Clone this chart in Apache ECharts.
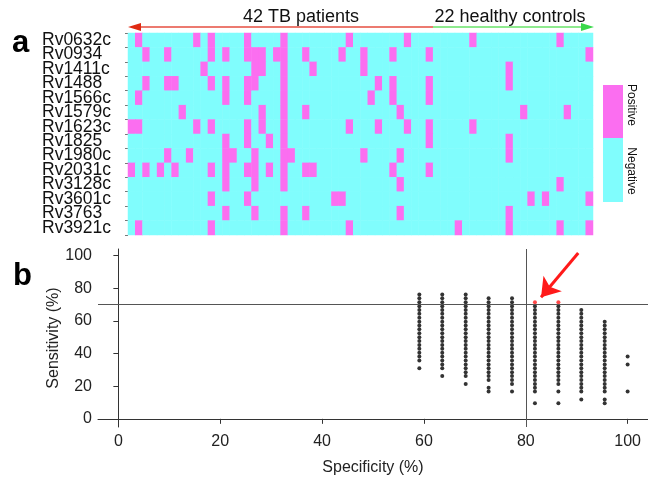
<!DOCTYPE html>
<html><head><meta charset="utf-8">
<script src="https://cdn.jsdelivr.net/npm/echarts@6/dist/echarts.min.js"></script>
<style>html,body{margin:0;padding:0;background:#fff}#c{width:648px;height:477px}</style>
</head><body><div id="c"></div>
<script>
// ---------- Panel a: heatmap ----------
const genes = ['Rv0632c','Rv0934','Rv1411c','Rv1488','Rv1566c','Rv1579c','Rv1623c','Rv1825','Rv1980c','Rv2031c','Rv3128c','Rv3601c','Rv3763','Rv3921c'];
const tbCount = 42;
const hcCount = 22;
// positive subject columns (0-41 TB patients, 42-63 healthy controls)
const pos_Rv0632c = [1, 9, 11, 16, 21, 30, 38, 47, 59];
const pos_Rv0934  = [2, 5, 11, 13, 16, 17, 18, 20, 21, 24, 29, 32, 36, 41, 63];
const pos_Rv1411c = [10, 17, 18, 21, 25, 32, 52];
const pos_Rv1488  = [2, 5, 6, 11, 13, 16, 17, 21, 34, 36, 41, 52];
const pos_Rv1566c = [1, 13, 16, 21, 33, 36, 41];
const pos_Rv1579c = [7, 18, 21, 24, 37, 54, 60];
const pos_Rv1623c = [0, 1, 9, 11, 16, 18, 21, 30, 34, 38, 41, 47];
const pos_Rv1825  = [13, 16, 19, 21, 41, 52];
const pos_Rv1980c = [5, 8, 13, 14, 17, 21, 22, 32, 37, 52];
const pos_Rv2031c = [0, 2, 4, 6, 11, 13, 16, 17, 19, 21, 24, 25, 36, 41];
const pos_Rv3128c = [13, 17, 21, 37, 59];
const pos_Rv3601c = [11, 16, 28, 29, 55, 57, 63];
const pos_Rv3763  = [13, 17, 21, 24, 37, 52];
const pos_Rv3921c = [1, 11, 21, 30, 45, 52, 59, 63];
const positives = [pos_Rv0632c,pos_Rv0934,pos_Rv1411c,pos_Rv1488,pos_Rv1566c,pos_Rv1579c,pos_Rv1623c,pos_Rv1825,pos_Rv1980c,pos_Rv2031c,pos_Rv3128c,pos_Rv3601c,pos_Rv3763,pos_Rv3921c];

// ---------- Panel b: scatter ----------
const xTicks = [0, 20, 40, 60, 80, 100];
const yTicks = [0, 20, 40, 60, 80, 100];
const specificity = [59.1, 63.6, 68.2, 72.7, 77.3, 81.8, 86.4, 90.9, 95.5, 100];
const sens_59_1 = [76.2,73.8,71.4,69.0,66.7,64.3,61.9,59.5,57.1,54.8,52.4,50.0,47.6,45.2,42.9,40.5,38.1,35.7,31.0];
const sens_63_6 = [76.2,73.8,71.4,69.0,66.7,64.3,61.9,59.5,57.1,54.8,52.4,50.0,47.6,45.2,42.9,40.5,38.1,35.7,33.3,31.0,26.2];
const sens_68_2 = [76.2,73.8,71.4,69.0,66.7,64.3,61.9,59.5,57.1,54.8,52.4,50.0,47.6,45.2,42.9,40.5,38.1,35.7,33.3,31.0,28.6,26.2,21.4];
const sens_72_7 = [73.8,71.4,69.0,66.7,64.3,61.9,59.5,57.1,54.8,52.4,50.0,47.6,45.2,42.9,40.5,38.1,35.7,33.3,31.0,28.6,26.2,23.8,19.0,16.7];
const sens_77_3 = [73.8,71.4,69.0,66.7,64.3,61.9,59.5,57.1,54.8,52.4,50.0,47.6,45.2,42.9,40.5,38.1,35.7,33.3,31.0,28.6,26.2,23.8,21.4,16.7];
const sens_81_8 = [69.0,66.7,64.3,61.9,59.5,57.1,54.8,52.4,50.0,47.6,45.2,42.9,40.5,38.1,35.7,33.3,31.0,28.6,26.2,23.8,21.4,19.0,16.7,9.5];
const sens_86_4 = [69.0,66.7,64.3,61.9,59.5,57.1,54.8,52.4,50.0,47.6,45.2,42.9,40.5,38.1,35.7,33.3,31.0,28.6,26.2,23.8,21.4,16.7,9.5];
const sens_90_9 = [66.7,64.3,61.9,59.5,57.1,54.8,52.4,50.0,47.6,45.2,42.9,40.5,38.1,35.7,33.3,31.0,28.6,26.2,23.8,21.4,19.0,16.7,11.9];
const sens_95_5 = [59.5,57.1,54.8,52.4,50.0,47.6,45.2,42.9,40.5,38.1,35.7,33.3,31.0,28.6,26.2,23.8,21.4,19.0,16.7,11.9,9.5];
const sens_100  = [38.1,33.3,16.7];
const sensCols = [sens_59_1,sens_63_6,sens_68_2,sens_72_7,sens_77_3,sens_81_8,sens_86_4,sens_90_9,sens_95_5,sens_100];
const redSpecificity = [81.8, 86.4];
const redSensitivity = [71.4, 71.4];
const cutSensitivity = 70;
const cutSpecificity = 80;
const arrowFrom = [90.3, 101.5];
const arrowTo = [83.0, 74.5];

const PINK = '#fb6ef0', CYAN = '#80fdfd';
const FONT = '"Liberation Sans", Arial, sans-serif';

const subjects = [];
for (let i = 0; i < tbCount + hcCount; i++) subjects.push(String(i));
const heatData = [];
positives.forEach((cols, r) => {
  for (let c = 0; c < tbCount + hcCount; c++) heatData.push([c, r, cols.includes(c) ? 1 : 0]);
});
const scatterData = [];
specificity.forEach((sp, i) => sensCols[i].forEach(s => scatterData.push([sp, s])));
const redData = redSpecificity.map((sp, i) => [sp, redSensitivity[i]]);

const chart = echarts.init(document.getElementById('c'), null, {renderer: 'canvas'});
chart.setOption({
  animation: false,
  textStyle: {fontFamily: FONT},
  grid: [
    {left: 128, top: 33, width: 465, height: 202},
    {left: 98, top: 249, right: 0, bottom: 45}
  ],
  xAxis: [
    {gridIndex: 0, type: 'category', data: subjects, show: false},
    {gridIndex: 1, type: 'value', min: -4, max: 104,
     axisLine: {lineStyle: {color: '#333'}},
     axisTick: {customValues: xTicks, length: 5, lineStyle: {color: '#333'}},
     axisLabel: {customValues: xTicks, color: '#222', fontSize: 16, margin: 7},
     splitLine: {show: false},
     name: 'Specificity (%)', nameLocation: 'middle', nameGap: 33,
     nameTextStyle: {color: '#222', fontSize: 16}}
  ],
  yAxis: [
    {gridIndex: 0, type: 'category', data: genes, inverse: true,
     axisLine: {show: false},
     axisTick: {show: true, length: 3, lineStyle: {color: '#777'}},
     axisLabel: {interval: 0, color: '#111', fontSize: 17.5, margin: 86, align: 'left'}},
    {gridIndex: 1, type: 'value', min: -5, max: 104,
     axisLine: {show: true, lineStyle: {color: '#333'}},
     axisTick: {show: true, customValues: yTicks, length: 5, lineStyle: {color: '#333'}},
     axisLabel: {customValues: yTicks, color: '#222', fontSize: 16, margin: 6},
     splitLine: {show: false},
     name: 'Sensitivity (%)', nameLocation: 'middle', nameGap: 36, nameMoveOverlap: false,
     nameTextStyle: {color: '#222', fontSize: 16}}
  ],
  visualMap: {
    show: false, type: 'piecewise', seriesIndex: 0, dimension: 2,
    pieces: [{value: 1, color: PINK}, {value: 0, color: CYAN}]
  },
  series: [
    {type: 'heatmap', xAxisIndex: 0, yAxisIndex: 0, data: heatData,
     itemStyle: {borderWidth: 0}, emphasis: {disabled: true}, silent: true},
    {type: 'scatter', xAxisIndex: 1, yAxisIndex: 1, data: scatterData,
     symbolSize: 4, itemStyle: {color: '#000'}, silent: true,
     markLine: {silent: true, symbol: 'none', label: {show: false},
       lineStyle: {color: '#555', width: 1, type: 'solid'},
       data: [{yAxis: cutSensitivity}, {xAxis: cutSpecificity}]}},
    {type: 'scatter', xAxisIndex: 1, yAxisIndex: 1, data: redData,
     symbolSize: 4, itemStyle: {color: '#ff1a1a'}, silent: true,
     markLine: {silent: true, symbol: ['none', 'arrow'], symbolSize: 18, label: {show: false},
       lineStyle: {color: '#ff1a1a', width: 3, type: 'solid'},
       data: [[{coord: arrowFrom}, {coord: arrowTo}]]}}
  ],
  graphic: [
    {type: 'text', x: 12, y: 43, style: {text: 'a', font: 'bold 31px ' + FONT, fill: '#000', textVerticalAlign: 'middle'}},
    {type: 'text', x: 13, y: 276, style: {text: 'b', font: 'bold 31px ' + FONT, fill: '#000', textVerticalAlign: 'middle'}},
    {type: 'text', x: 301, y: 17, style: {text: '42 TB patients', font: '18px ' + FONT, fill: '#111', textAlign: 'center', textVerticalAlign: 'middle'}},
    {type: 'text', x: 510, y: 17, style: {text: '22 healthy controls', font: '18px ' + FONT, fill: '#111', textAlign: 'center', textVerticalAlign: 'middle'}},
    {type: 'line', shape: {x1: 136, y1: 27, x2: 433, y2: 27}, style: {stroke: '#ec7a70', lineWidth: 2}},
    {type: 'polygon', shape: {points: [[128, 27], [141, 23], [141, 31]]}, style: {fill: '#e02a12'}},
    {type: 'line', shape: {x1: 433, y1: 27, x2: 585, y2: 27}, style: {stroke: '#8eea8e', lineWidth: 2}},
    {type: 'polygon', shape: {points: [[594, 27], [581, 23], [581, 31]]}, style: {fill: '#3ad84a'}},
    {type: 'rect', shape: {x: 603, y: 85, width: 20, height: 53}, style: {fill: PINK}},
    {type: 'rect', shape: {x: 603, y: 138, width: 20, height: 64}, style: {fill: CYAN}},
    {type: 'text', x: 631, y: 105, rotation: -Math.PI / 2, style: {text: 'Positive', font: '12px ' + FONT, fill: '#111', textAlign: 'center', textVerticalAlign: 'middle'}},
    {type: 'text', x: 631, y: 171, rotation: -Math.PI / 2, style: {text: 'Negative', font: '12px ' + FONT, fill: '#111', textAlign: 'center', textVerticalAlign: 'middle'}}
  ]
});
</script></body></html>
